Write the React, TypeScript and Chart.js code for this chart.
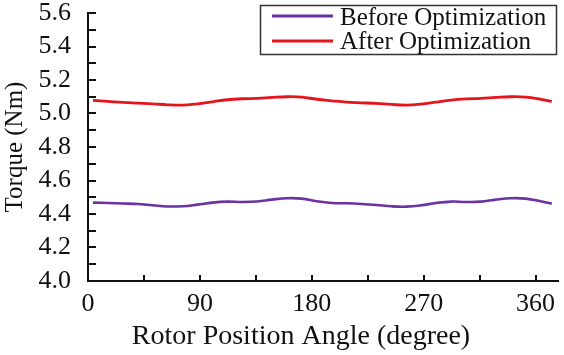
import React, { useEffect, useRef } from "react";
import { Chart, registerables } from "chart.js";

Chart.register(...registerables);

const angles = [4, 16, 28, 40, 52, 64, 76, 88, 100, 112, 124, 136, 148, 160, 172, 184, 196, 208, 220, 232, 244, 256, 268, 280, 292, 304, 316, 328, 340, 352, 364, 373];

const beforeOpt = [4.468, 4.466, 4.463, 4.46, 4.452, 4.445, 4.446, 4.456, 4.468, 4.474, 4.472, 4.475, 4.486, 4.494, 4.492, 4.476, 4.466, 4.464, 4.46, 4.454, 4.446, 4.444, 4.452, 4.466, 4.474, 4.472, 4.474, 4.486, 4.494, 4.492, 4.476, 4.462];

const afterOpt = [5.078, 5.072, 5.066, 5.062, 5.058, 5.052, 5.05, 5.058, 5.07, 5.082, 5.088, 5.09, 5.096, 5.1, 5.098, 5.085, 5.076, 5.068, 5.064, 5.06, 5.054, 5.05, 5.056, 5.068, 5.08, 5.087, 5.09, 5.096, 5.1, 5.098, 5.085, 5.072];

const seriesLabels = ["Before Optimization", "After Optimization"];
const seriesColors = ["#6a32a2", "#e3151d"];

const xTitle = "Rotor Position Angle (degree)";
const yTitle = "Torque (Nm)";

const SERIF = "'Liberation Serif', 'Times New Roman', serif";

const inwardTicks = {
  id: "inwardTicks",
  afterDraw(chart: any) {
    const ctx = chart.ctx;
    const xs = chart.scales.x;
    const ys = chart.scales.y;
    const area = chart.chartArea;
    ctx.save();
    ctx.strokeStyle = "#111";
    ctx.lineWidth = 2;
    ctx.beginPath();
    xs.ticks.forEach((t: any) => {
      const px = Math.round(xs.getPixelForValue(t.value));
      ctx.moveTo(px, area.bottom);
      ctx.lineTo(px, area.bottom - 6);
    });
    ys.ticks.forEach((t: any) => {
      const py = Math.round(ys.getPixelForValue(t.value));
      ctx.moveTo(area.left, py);
      ctx.lineTo(area.left + 8, py);
    });
    ctx.stroke();
    ctx.restore();
  },
};

const xAxisTitle = {
  id: "xAxisTitle",
  afterDraw(chart: any) {
    const ctx = chart.ctx;
    ctx.save();
    ctx.fillStyle = "#111";
    ctx.font = `28px ${SERIF}`;
    ctx.textAlign = "center";
    ctx.textBaseline = "alphabetic";
    ctx.fillText(xTitle, 301, 344);
    ctx.restore();
  },
};

const boxLegend = {
  id: "boxLegend",
  afterDraw(chart: any) {
    const ctx = chart.ctx;
    ctx.save();
    ctx.strokeStyle = "#333";
    ctx.lineWidth = 1.5;
    ctx.fillStyle = "#fff";
    ctx.fillRect(260, 5, 296, 49);
    ctx.strokeRect(260.5, 5.5, 296, 49);
    chart.data.datasets.forEach((ds: any, i: number) => {
      const yLine = 16 + i * 25;
      ctx.strokeStyle = ds.borderColor;
      ctx.lineWidth = 3;
      ctx.beginPath();
      ctx.moveTo(272, yLine);
      ctx.lineTo(333, yLine);
      ctx.stroke();
      ctx.fillStyle = "#111";
      ctx.font = `25px ${SERIF}`;
      ctx.textBaseline = "alphabetic";
      ctx.textAlign = "left";
      ctx.fillText(ds.label, 340, 25 + i * 24);
    });
    ctx.restore();
  },
};

export default function App() {
  const ref = useRef<HTMLCanvasElement | null>(null);
  useEffect(() => {
    document.body.style.margin = "0";
    const canvas = ref.current;
    if (!canvas) return;
    const chart = new Chart(canvas, {
      type: "line",
      data: {
        datasets: [
          {
            label: seriesLabels[0],
            data: angles.map((a, i) => ({ x: a, y: beforeOpt[i] })),
            borderColor: seriesColors[0],
            borderWidth: 2.6,
            pointRadius: 0,
            tension: 0.4,
            fill: false,
          },
          {
            label: seriesLabels[1],
            data: angles.map((a, i) => ({ x: a, y: afterOpt[i] })),
            borderColor: seriesColors[1],
            borderWidth: 2.8,
            pointRadius: 0,
            tension: 0.4,
            fill: false,
          },
        ],
      },
      options: {
        responsive: false,
        animation: false,
        layout: { padding: { top: 13, right: 6, left: 0, bottom: 0 } },
        plugins: {
          legend: { display: false },
          tooltip: { enabled: false },
        },
        scales: {
          x: {
            type: "linear",
            min: 0,
            max: 378,
            afterFit: (s: any) => {
              s.height = 74;
              s.paddingLeft = 0;
              s.paddingRight = 0;
            },
            ticks: {
              stepSize: 45,
              includeBounds: false,
              autoSkip: false,
              maxRotation: 0,
              padding: 10,
              color: "#111",
              font: { family: SERIF, size: 26, lineHeight: 1 },
              callback: (v: any) => (Math.round(Number(v)) % 90 === 0 ? String(Math.round(Number(v))) : ""),
            },
            grid: { display: false, drawTicks: false },
            border: { display: true, color: "#111", width: 2 },
            title: { display: false, text: xTitle },
          },
          y: {
            type: "linear",
            min: 4.0,
            max: 5.6,
            afterFit: (s: any) => {
              s.width = 88;
              s.paddingTop = 0;
              s.paddingBottom = 0;
            },
            ticks: {
              stepSize: 0.1,
              autoSkip: false,
              padding: 17,
              color: "#111",
              font: { family: SERIF, size: 26, lineHeight: 1 },
              callback: (v: any) => {
                const k = Math.round(Number(v) * 10);
                return k % 2 === 0 ? (k / 10).toFixed(1) : "";
              },
            },
            grid: { display: false, drawTicks: false },
            border: { display: true, color: "#111", width: 2 },
            title: {
              display: true,
              text: yTitle,
              color: "#111",
              font: { family: SERIF, size: 25 },
              padding: { top: 0, bottom: 0 },
            },
          },
        },
      },
      plugins: [inwardTicks, xAxisTitle, boxLegend],
    });
    return () => chart.destroy();
  }, []);
  return (
    <div style={{ width: 564, height: 355 }}>
      <canvas ref={ref} width={564} height={355} style={{ display: "block" }} />
    </div>
  );
}
